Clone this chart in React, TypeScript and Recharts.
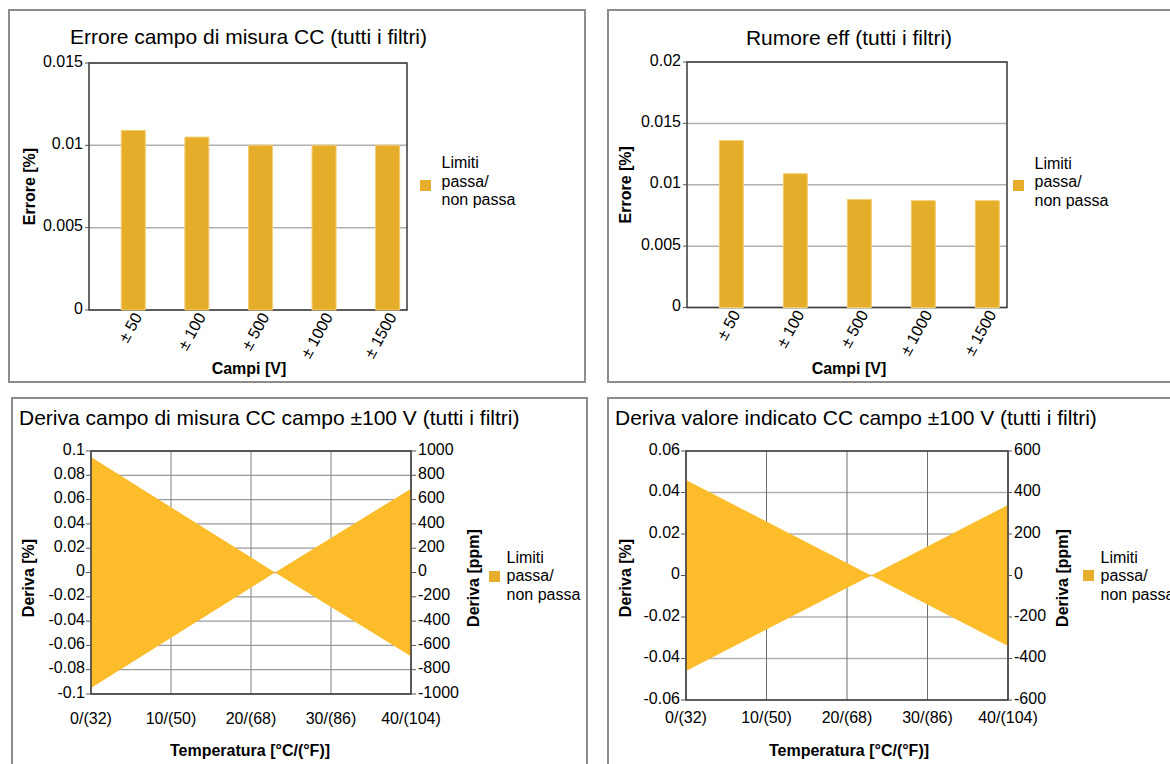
import React from 'react';
import {
  BarChart,
  Bar,
  XAxis,
  YAxis,
  CartesianGrid,
  ReferenceArea,
  ComposedChart,
  Area,
  Label,
} from 'recharts';

const FONT = '"Liberation Sans", Arial, Helvetica, sans-serif';

// ---------- data ----------
const rangeLabels = ['± 50', '± 100', '± 500', '± 1000', '± 1500'];
const erroreLimits = [0.0109, 0.0105, 0.01, 0.01, 0.01];
const rumoreLimits = [0.0136, 0.0109, 0.0088, 0.0087, 0.0087];
const erroreTicks = [0, 0.005, 0.01, 0.015];
const rumoreTicks = [0, 0.005, 0.01, 0.015, 0.02];

const temperatures = [0, 23, 40];
const campoUpper = [0.095, 0, 0.069];
const campoLower = [-0.095, 0, -0.069];
const campoUpperPpm = [950, 0, 690];
const campoLowerPpm = [-950, 0, -690];
const valoreUpper = [0.046, 0, 0.034];
const valoreLower = [-0.046, 0, -0.034];
const valoreUpperPpm = [460, 0, 340];
const valoreLowerPpm = [-460, 0, -340];
const tempTicks = [0, 10, 20, 30, 40];
const tempTickLabels = ['0/(32)', '10/(50)', '20/(68)', '30/(86)', '40/(104)'];
const campoPctTicks = [-0.1, -0.08, -0.06, -0.04, -0.02, 0, 0.02, 0.04, 0.06, 0.08, 0.1];
const campoPpmTicks = [-1000, -800, -600, -400, -200, 0, 200, 400, 600, 800, 1000];
const valorePctTicks = [-0.06, -0.04, -0.02, 0, 0.02, 0.04, 0.06];
const valorePpmTicks = [-600, -400, -200, 0, 200, 400, 600];

const legendLines = ['Limiti', 'passa/', 'non passa'];

// ---------- derived tables ----------
const erroreData = rangeLabels.map((name, i) => ({ name, measured: null, limit: erroreLimits[i] }));
const rumoreData = rangeLabels.map((name, i) => ({ name, measured: null, limit: rumoreLimits[i] }));
const campoData = temperatures.map((t, i) => ({
  t,
  band: [campoLower[i], campoUpper[i]],
  bandPpm: [campoLowerPpm[i], campoUpperPpm[i]],
}));
const valoreData = temperatures.map((t, i) => ({
  t,
  band: [valoreLower[i], valoreUpper[i]],
  bandPpm: [valoreLowerPpm[i], valoreUpperPpm[i]],
}));

// ---------- styles ----------
const BAR_FILL = '#E5AD29';
const AREA_FILL = '#FDBD2A';
const LEGEND_FILL = '#E6AE2C';
const BORDER = '#3a3a3a';
const tickStyle = { fontSize: 16, fill: '#000', fontFamily: FONT, dy: -2 };

const RangeTick = (props: any) => {
  const { x, y, payload } = props;
  const ax = x + 17;
  const ay = y - 4;
  return (
    <text
      x={ax}
      y={ay}
      textAnchor="end"
      dominantBaseline="central"
      transform={`rotate(-61, ${ax}, ${ay})`}
      fontSize={16}
      fontFamily={FONT}
      fill="#000"
    >
      {payload.value}
    </text>
  );
};

const axisTitle = (text: string, x: number, y: number, rotate: boolean) => (
  <Label
    content={() => (
      <text
        x={x}
        y={y}
        textAnchor="middle"
        dominantBaseline={rotate ? 'central' : 'alphabetic'}
        transform={rotate ? `rotate(-90, ${x}, ${y})` : undefined}
        fontSize={16}
        fontWeight="bold"
        fontFamily={FONT}
        fill="#000"
      >
        {text}
      </text>
    )}
  />
);

const PanelBox = ({ l, t, w, h }: any) => (
  <div
    style={{
      position: 'absolute',
      left: l,
      top: t,
      width: w,
      height: h,
      border: '2px solid #8c8c8c',
      boxSizing: 'border-box',
    }}
  />
);

const Title = ({ text, left, top, width, align }: any) => (
  <div
    style={{
      position: 'absolute',
      left,
      top,
      width,
      textAlign: align,
      fontSize: 21,
      lineHeight: '21px',
      fontFamily: FONT,
      whiteSpace: 'nowrap',
      color: '#000',
    }}
  >
    {text}
  </div>
);

const LegendBlock = ({ sx, sy, tx, ty }: any) => (
  <>
    <div style={{ position: 'absolute', left: sx, top: sy, width: 11, height: 11, background: LEGEND_FILL }} />
    <div
      style={{
        position: 'absolute',
        left: tx,
        top: ty,
        fontSize: 16,
        lineHeight: '18.5px',
        fontFamily: FONT,
        whiteSpace: 'nowrap',
        color: '#000',
      }}
    >
      {legendLines.map((l) => (
        <div key={l}>{l}</div>
      ))}
    </div>
  </>
);

const BarPanel = ({ ox, oy, w, h, data, ticks, plot, yTitleX, xTitle }: any) => {
  const yMax = ticks[ticks.length - 1];
  return (
    <div style={{ position: 'absolute', left: ox, top: oy }}>
      <BarChart
        width={w}
        height={h}
        data={data}
        margin={{ top: plot.t - oy, right: ox + w - plot.r, bottom: 0, left: 0 }}
        barCategoryGap="13%"
        barGap={0}
      >
        <CartesianGrid horizontal vertical={false} stroke="#b0b0b0" strokeWidth={1.5} />
        <XAxis
          dataKey="name"
          interval={0}
          axisLine={false}
          tickLine={false}
          height={oy + h - plot.b}
          tick={<RangeTick />}
        >
          {axisTitle('Campi [V]', xTitle.x - ox, xTitle.y - oy, false)}
        </XAxis>
        <YAxis
          width={plot.l - ox}
          domain={[0, yMax]}
          ticks={ticks}
          interval={0}
          axisLine={false}
          tickLine={{ stroke: '#555' }}
          tickSize={4}
          tickMargin={2}
          tick={tickStyle}
        >
          {axisTitle('Errore [%]', yTitleX - ox, (plot.t + plot.b) / 2 - oy, true)}
        </YAxis>
        <Bar dataKey="measured" fill="none" isAnimationActive={false} />
        <Bar dataKey="limit" fill={BAR_FILL} stroke="#F2CD72" strokeWidth={1} isAnimationActive={false} />
        <ReferenceArea y1={0} y2={yMax} fill="none" stroke={BORDER} strokeWidth={1.5} ifOverflow="visible" />
      </BarChart>
    </div>
  );
};

const DriftPanel = ({ ox, oy, w, h, data, pctTicks, ppmTicks, plot, xTickGap, rightTickSize, yTitleX, yTitleRX, titleY, xTitle, hColor, vColor }: any) => {
  const pMin = pctTicks[0];
  const pMax = pctTicks[pctTicks.length - 1];
  return (
    <div style={{ position: 'absolute', left: ox, top: oy }}>
      <ComposedChart
        width={w}
        height={h}
        data={data}
        margin={{ top: plot.t - oy, right: ox + w - plot.r - 60, bottom: 0, left: 0 }}
      >
        <XAxis
          dataKey="t"
          type="number"
          domain={[0, 40]}
          ticks={tempTicks}
          interval={0}
          axisLine={false}
          tickLine={false}
          tickSize={6}
          tickMargin={xTickGap}
          height={oy + h - plot.b}
          tick={{ fontSize: 16, fill: '#000', fontFamily: FONT }}
          tickFormatter={(v: number) => tempTickLabels[tempTicks.indexOf(v)]}
        >
          {axisTitle('Temperatura [°C/(°F)]', xTitle.x - ox, xTitle.y - oy, false)}
        </XAxis>
        <YAxis
          yAxisId="pct"
          width={plot.l - ox}
          domain={[pMin, pMax]}
          ticks={pctTicks}
          interval={0}
          axisLine={false}
          tickLine={{ stroke: '#555' }}
          tickSize={5}
          tickMargin={1}
          tick={tickStyle}
        >
          {axisTitle('Deriva [%]', yTitleX - ox, titleY - oy, true)}
        </YAxis>
        <YAxis
          yAxisId="ppm"
          orientation="right"
          width={60}
          domain={[ppmTicks[0], ppmTicks[ppmTicks.length - 1]]}
          ticks={ppmTicks}
          interval={0}
          axisLine={false}
          tickLine={{ stroke: '#555' }}
          tickSize={rightTickSize}
          tickMargin={2}
          tick={tickStyle}
        >
          {axisTitle('Deriva [ppm]', yTitleRX - ox, titleY - oy, true)}
        </YAxis>
        <Area
          yAxisId="pct"
          dataKey="band"
          type="linear"
          fill={AREA_FILL}
          fillOpacity={1}
          stroke="none"
          isAnimationActive={false}
        />
        <Area
          yAxisId="ppm"
          dataKey="bandPpm"
          type="linear"
          fill="none"
          stroke="none"
          isAnimationActive={false}
        />
        <CartesianGrid yAxisId="pct" horizontal vertical={false} stroke={hColor} strokeWidth={1.3} />
        <CartesianGrid yAxisId="pct" horizontal={false} vertical stroke={vColor} strokeWidth={1} />
        <ReferenceArea yAxisId="pct" y1={pMin} y2={pMax} fill="none" stroke={BORDER} strokeWidth={1.5} ifOverflow="visible" />
      </ComposedChart>
    </div>
  );
};

export default function App() {
  return (
    <div
      style={{
        position: 'absolute',
        left: 0,
        top: 0,
        width: 1170,
        height: 764,
        overflow: 'hidden',
        background: '#fff',
        fontFamily: FONT,
      }}
    >
      <PanelBox l={8} t={9} w={578} h={374} />
      <PanelBox l={607} t={9} w={600} h={374} />
      <PanelBox l={11} t={397} w={577} h={400} />
      <PanelBox l={607} t={397} w={600} h={400} />

      <Title text="Errore campo di misura CC (tutti i filtri)" left={48.5} top={26.2} width={400} align="center" />
      <Title text="Rumore eff (tutti i filtri)" left={649} top={26.5} width={400} align="center" />
      <Title text="Deriva campo di misura CC campo ±100 V (tutti i filtri)" left={19} top={406.9} width={560} align="left" />
      <Title text="Deriva valore indicato CC campo ±100 V (tutti i filtri)" left={615} top={407.2} width={560} align="left" />

      <BarPanel
        ox={9}
        oy={10}
        w={576}
        h={372}
        data={erroreData}
        ticks={erroreTicks}
        plot={{ l: 89, r: 407, t: 63, b: 310 }}
        yTitleX={29}
        xTitle={{ x: 249, y: 374 }}
      />
      <BarPanel
        ox={609}
        oy={10}
        w={561}
        h={372}
        data={rumoreData}
        ticks={rumoreTicks}
        plot={{ l: 687, r: 1007, t: 62, b: 307.5 }}
        yTitleX={625}
        xTitle={{ x: 849, y: 374 }}
      />
      <DriftPanel
        ox={12}
        oy={398}
        w={574}
        h={366}
        data={campoData}
        pctTicks={campoPctTicks}
        ppmTicks={campoPpmTicks}
        plot={{ l: 91, r: 411, t: 451, b: 694 }}
        xTickGap={12.7}
        rightTickSize={5}
        yTitleX={28}
        yTitleRX={473}
        titleY={578}
        xTitle={{ x: 250, y: 755.7 }}
        hColor="#9a9a9a"
        vColor="#808080"
      />
      <DriftPanel
        ox={608}
        oy={398}
        w={562}
        h={366}
        data={valoreData}
        pctTicks={valorePctTicks}
        ppmTicks={valorePpmTicks}
        plot={{ l: 686, r: 1008, t: 451, b: 700 }}
        xTickGap={5.7}
        rightTickSize={4}
        yTitleX={625}
        yTitleRX={1062}
        titleY={578}
        xTitle={{ x: 849, y: 756 }}
        hColor="#b0b0b0"
        vColor="#707070"
      />

      <LegendBlock sx={420} sy={180} tx={441.5} ty={154.2} />
      <LegendBlock sx={1013} sy={180} tx={1034.5} ty={154.5} />
      <LegendBlock sx={489} sy={571} tx={506.5} ty={548.9} />
      <LegendBlock sx={1083} sy={570} tx={1100.5} ty={548.9} />
    </div>
  );
}
